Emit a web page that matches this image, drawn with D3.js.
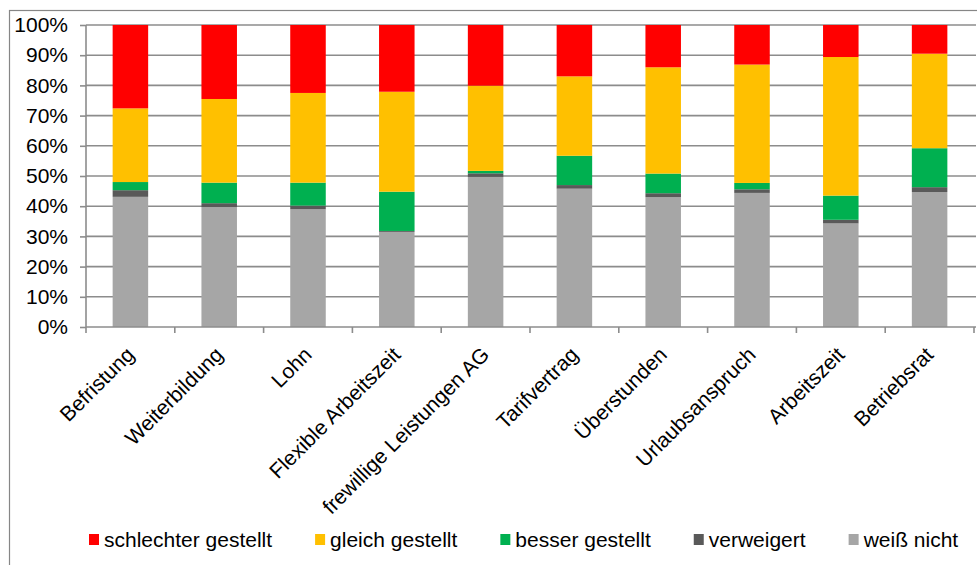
<!DOCTYPE html>
<html>
<head>
<meta charset="utf-8">
<script src="https://cdn.jsdelivr.net/npm/d3@7"></script>
<style>
  html, body { margin: 0; padding: 0; background: #fff; }
  svg { display: block; font-family: "Liberation Sans", Arial, sans-serif; }
</style>
</head>
<body>
<svg id="chart" width="977" height="565"></svg>
<script>
const categories = ["Befristung", "Weiterbildung", "Lohn", "Flexible Arbeitszeit", "frewillige Leistungen AG",
  "Tarifvertrag", "Überstunden", "Urlaubsanspruch", "Arbeitszeit", "Betriebsrat"];
const seriesNames = ["weiß nicht", "verweigert", "besser gestellt", "gleich gestellt", "schlechter gestellt"];
const weissNicht   = [43.1, 39.7, 39.0, 31.5, 49.7, 45.8, 43.0, 44.4, 34.3, 44.7];
const verweigert   = [2.2, 1.3, 1.2, 0.3, 1.2, 1.2, 1.3, 1.2, 1.2, 1.6];
const besser       = [2.7, 6.8, 7.6, 13.0, 0.8, 9.7, 6.5, 2.1, 8.0, 12.9];
const gleich       = [24.4, 27.7, 29.7, 33.1, 28.2, 26.3, 35.2, 39.2, 45.9, 31.3];
const schlechter   = [27.6, 24.5, 22.5, 22.1, 20.1, 17.0, 14.0, 13.1, 10.6, 9.5];
const yTicks = [0, 10, 20, 30, 40, 50, 60, 70, 80, 90, 100];
const legendOrder = ["schlechter gestellt", "gleich gestellt", "besser gestellt", "verweigert", "weiß nicht"];

const colors = {
  "weiß nicht": "#A6A6A6",
  "verweigert": "#595959",
  "besser gestellt": "#00B050",
  "gleich gestellt": "#FFC000",
  "schlechter gestellt": "#FF0000"
};

const rows = categories.map((c, i) => ({
  cat: c,
  "weiß nicht": weissNicht[i],
  "verweigert": verweigert[i],
  "besser gestellt": besser[i],
  "gleich gestellt": gleich[i],
  "schlechter gestellt": schlechter[i]
}));
rows.forEach(r => {
  const t = d3.sum(seriesNames, k => r[k]);
  seriesNames.forEach(k => r[k] = r[k] / t * 100);
});

const svg = d3.select("#chart");
const pLeft = 86, pRight = 974, pTop = 25, pBottom = 327;
const FS = 21;

const x = d3.scaleBand().domain(categories).range([pLeft, pRight]).paddingInner(0.6).paddingOuter(0.3);
const y = d3.scaleLinear().domain([0, 100]).range([pBottom, pTop]);

svg.append("rect").attr("x", 9.5).attr("y", 10.5).attr("width", 1000).attr("height", 600)
  .attr("fill", "none").attr("stroke", "#868686").attr("stroke-width", 1.2);

svg.append("g").selectAll("line").data(yTicks.filter(t => t > 0)).join("line")
  .attr("x1", pLeft).attr("x2", 976)
  .attr("y1", d => y(d)).attr("y2", d => y(d))
  .attr("stroke", "#8C8C8C").attr("stroke-width", 1.6);

const stack = d3.stack().keys(seriesNames)(rows);
svg.append("g").selectAll("g").data(stack).join("g")
  .attr("fill", d => colors[d.key])
  .selectAll("rect").data(d => d).join("rect")
  .attr("x", d => x(d.data.cat))
  .attr("width", x.bandwidth())
  .attr("y", d => y(d[1]))
  .attr("height", d => y(d[0]) - y(d[1]));

const yAxis = d3.axisLeft(y).tickValues(yTicks).tickFormat(d => d + "%").tickSize(6).tickPadding(12);
const yg = svg.append("g").attr("transform", `translate(${pLeft},0)`).call(yAxis);
yg.select(".domain").attr("stroke", "#8C8C8C").attr("stroke-width", 1.6).attr("d", `M0,${pTop}V${pBottom}`);
yg.selectAll(".tick line").attr("stroke", "#8C8C8C").attr("stroke-width", 1.6);
yg.selectAll(".tick text").attr("font-size", FS).attr("fill", "#000")
  .attr("font-family", "Liberation Sans, Arial, sans-serif");

svg.append("line").attr("x1", pLeft).attr("x2", 976).attr("y1", pBottom).attr("y2", pBottom)
  .attr("stroke", "#8C8C8C").attr("stroke-width", 1.6);
const boundaries = d3.range(categories.length + 1).map(i => pLeft + i * x.step());
svg.append("g").selectAll("line").data(boundaries).join("line")
  .attr("x1", d => d).attr("x2", d => d).attr("y1", pBottom).attr("y2", pBottom + 6)
  .attr("stroke", "#8C8C8C").attr("stroke-width", 1.6);

svg.append("g").selectAll("text").data(categories).join("text")
  .attr("transform", d => `translate(${x(d) + x.bandwidth() / 2 + 5},356) rotate(-45)`)
  .attr("text-anchor", "end")
  .attr("font-size", FS)
  .attr("fill", "#000")
  .text(d => d);

const lg = svg.append("g");
let lx = 89;
legendOrder.forEach(k => {
  lg.append("rect").attr("x", lx).attr("y", 534).attr("width", 10).attr("height", 11).attr("fill", colors[k]);
  const t = lg.append("text").attr("x", lx + 15).attr("y", 547).attr("font-size", FS).attr("fill", "#000").text(k);
  lx += 15 + t.node().getComputedTextLength() + 43;
});
</script>
</body>
</html>
